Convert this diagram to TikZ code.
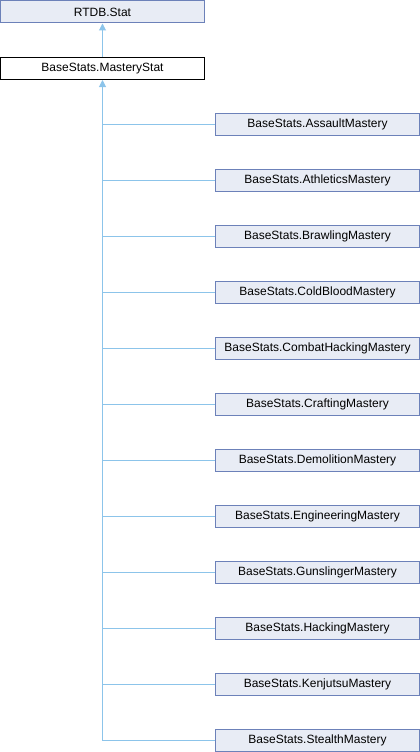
\documentclass[tikz,border=0pt]{standalone}
\usepackage{fontspec}
\setmainfont{Liberation Sans}
\usetikzlibrary{arrows.meta}
\definecolor{boxfill}{HTML}{E8ECF5}
\definecolor{boxdraw}{HTML}{6C81B9}
\definecolor{edgecol}{HTML}{8CC4EA}
\tikzset{
  cls/.style={draw=boxdraw, fill=boxfill, line width=1pt, minimum width=204pt, minimum height=22pt, inner sep=0pt, font=\fontsize{12pt}{14pt}\selectfont},
  cur/.style={cls, draw=black, fill=white},
  edge/.style={draw=edgecol, line width=1pt},
  inh/.style={edge, -{Triangle[length=7pt,width=7pt,fill=edgecol]}}
}
\begin{document}
\begin{tikzpicture}[x=1pt,y=1pt]
\useasboundingbox (0,0) rectangle (420,-752);
\node[cls] (p) at (102.5,-12) {RTDB.Stat};
\node[cur] (m) at (102.5,-68.5) {BaseStats.MasteryStat};
\node[cls] (c1) at (317.5,-124) {BaseStats.AssaultMastery};
\node[cls] (c2) at (317.5,-180) {BaseStats.AthleticsMastery};
\node[cls] (c3) at (317.5,-236) {BaseStats.BrawlingMastery};
\node[cls] (c4) at (317.5,-292) {BaseStats.ColdBloodMastery};
\node[cls] (c5) at (317.5,-348) {BaseStats.CombatHackingMastery};
\node[cls] (c6) at (317.5,-404) {BaseStats.CraftingMastery};
\node[cls] (c7) at (317.5,-460) {BaseStats.DemolitionMastery};
\node[cls] (c8) at (317.5,-516) {BaseStats.EngineeringMastery};
\node[cls] (c9) at (317.5,-572) {BaseStats.GunslingerMastery};
\node[cls] (c10) at (317.5,-628) {BaseStats.HackingMastery};
\node[cls] (c11) at (317.5,-684) {BaseStats.KenjutsuMastery};
\node[cls] (c12) at (317.5,-740) {BaseStats.StealthMastery};
\draw[inh] (m.north) -- (p.south);
\foreach \i in {1,...,11} {
  \draw[edge] (c\i.west) -- (c\i.west -| m.south);
}
\draw[inh] (c12.west) -| (m.south);
\end{tikzpicture}
\end{document}
